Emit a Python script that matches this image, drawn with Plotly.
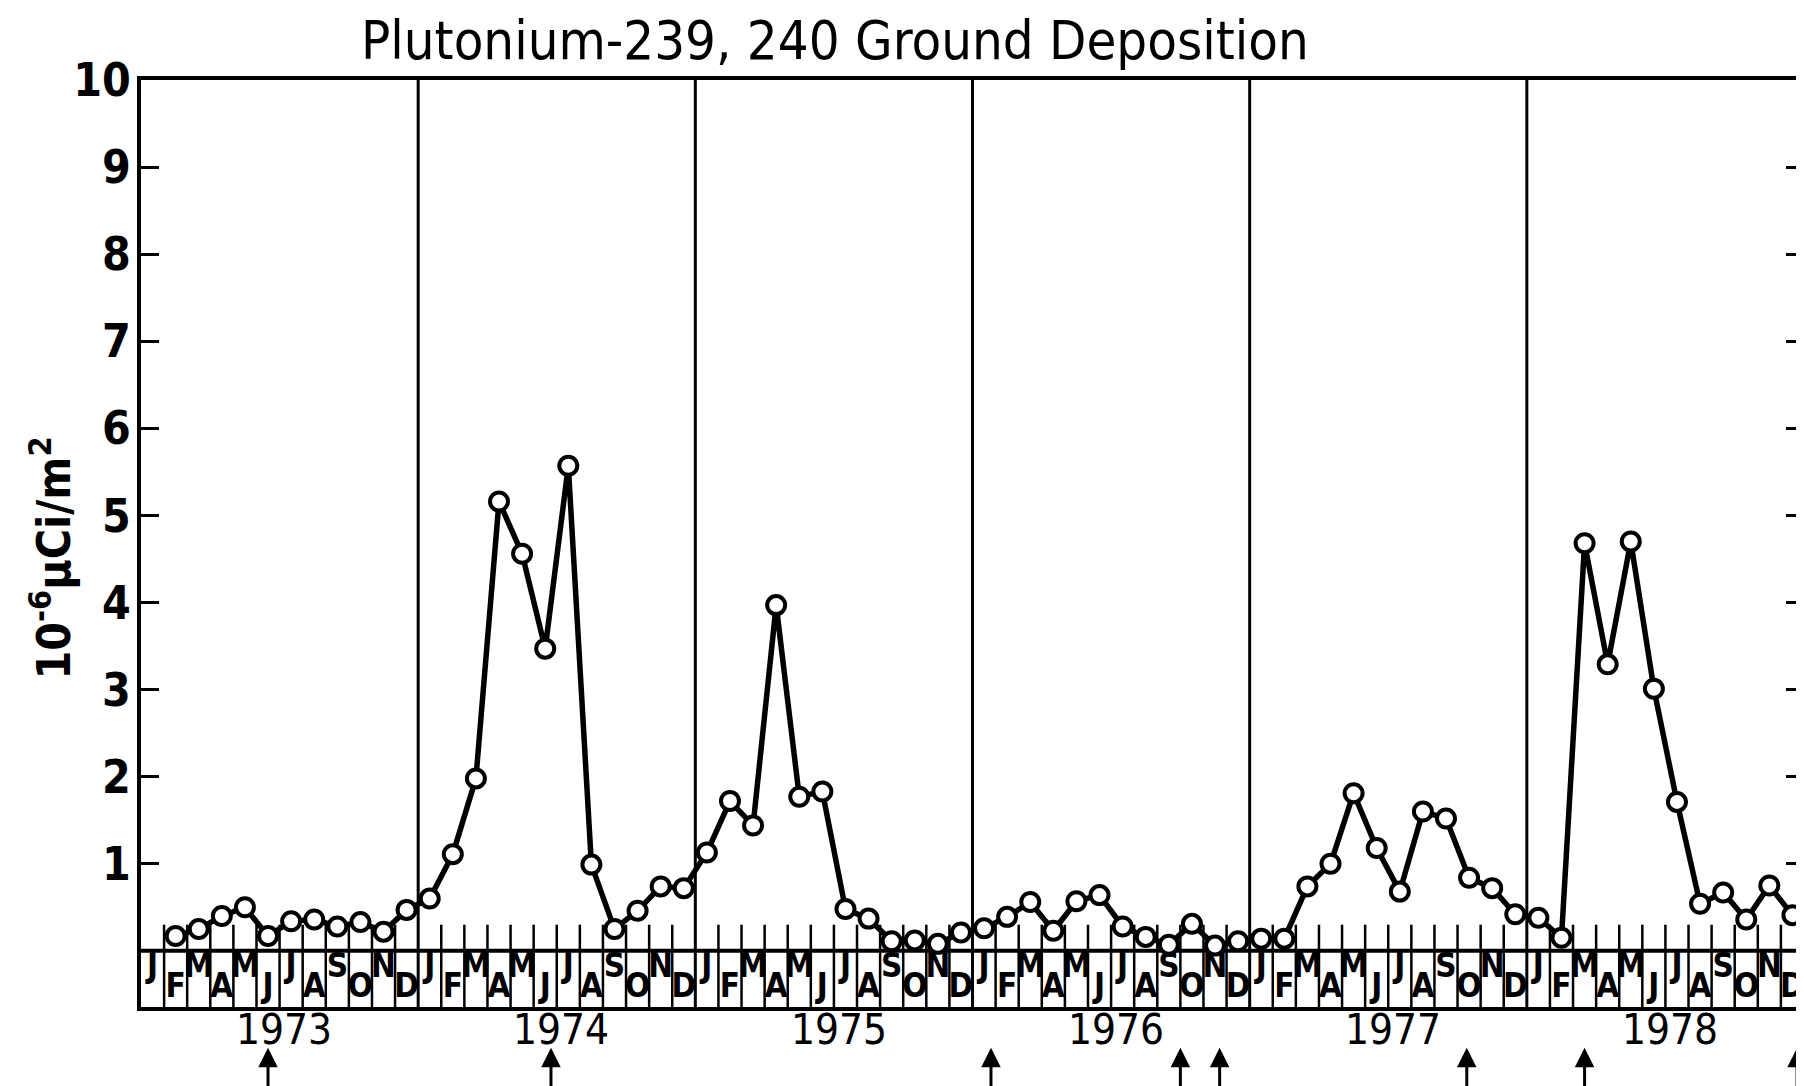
import plotly.graph_objects as go

# ---------------- data ----------------
month_letters = ["J", "F", "M", "A", "M", "J", "J", "A", "S", "O", "N", "D"]
years = [1973, 1974, 1975, 1976, 1977, 1978]

pu_1973 = [None, 0.17, 0.25, 0.40, 0.50, 0.17, 0.34, 0.36, 0.28, 0.33, 0.22, 0.47]
pu_1974 = [0.60, 1.11, 1.98, 5.16, 4.56, 3.47, 5.57, 0.99, 0.25, 0.46, 0.74, 0.72]
pu_1975 = [1.13, 1.72, 1.44, 3.97, 1.77, 1.83, 0.48, 0.37, 0.11, 0.12, 0.08, 0.21]
pu_1976 = [0.26, 0.39, 0.56, 0.23, 0.57, 0.64, 0.28, 0.16, 0.07, 0.31, 0.06, 0.11]
pu_1977 = [0.14, 0.14, 0.74, 1.00, 1.81, 1.18, 0.68, 1.60, 1.52, 0.84, 0.72, 0.42]
pu_1978 = [0.38, 0.15, 4.68, 3.29, 4.70, 3.01, 1.71, 0.54, 0.67, 0.36, 0.75, 0.41]

y_tick_values = [1, 2, 3, 4, 5, 6, 7, 8, 9, 10]
y_tick_labels = ["1", "2", "3", "4", "5", "6", "7", "8", "9", "10"]

# months (index from Jan 1973) marked by arrows under the chart
event_months = [5.0, 17.25, 36.3, 44.5, 46.2, 56.9, 62.0, 71.2]

title_text = "Plutonium-239, 240 Ground Deposition"
y_title = "10<sup>-6</sup>\u03bcCi/m<sup>2</sup>"

# ---------------- derived ----------------
series = pu_1973 + pu_1974 + pu_1975 + pu_1976 + pu_1977 + pu_1978
n_months = len(series)
month_x = list(range(n_months))
letters = [month_letters[i % 12] for i in month_x]

# ---------------- style ----------------
FONT = "DejaVu Sans Condensed, Liberation Sans Narrow, Arial Narrow, sans-serif"
BLACK = "#000000"
STRIP_BOTTOM = -0.645   # bottom of the month-letter strip (axis units)
TICK_TOP = 0.3          # height of the small month tick marks
UPPER_Y, LOWER_Y = -0.20, -0.44

fig = go.Figure()

# month letters in the strip (alternating up / down)
fig.add_trace(go.Scatter(
    x=month_x,
    y=[UPPER_Y if i % 2 == 0 else LOWER_Y for i in month_x],
    text=letters,
    mode="text",
    textfont=dict(family=FONT, size=33, color=BLACK, weight="bold"),
    hoverinfo="skip",
    showlegend=False,
))

# the data line
fig.add_trace(go.Scatter(
    x=month_x,
    y=series,
    mode="lines+markers",
    line=dict(color=BLACK, width=5.5),
    marker=dict(symbol="circle", size=18, color="white",
                line=dict(color=BLACK, width=4)),
    showlegend=False,
    cliponaxis=False,
))

shapes = []
# top of strip (y = 0)
shapes.append(dict(type="line", xref="x", yref="y", x0=-0.5, x1=n_months - 0.5,
                   y0=0, y1=0, line=dict(color=BLACK, width=4), layer="below"))
for b in range(1, n_months):
    xb = b - 0.5
    if b % 12 == 0:
        shapes.append(dict(type="line", xref="x", yref="y", x0=xb, x1=xb,
                           y0=STRIP_BOTTOM, y1=10, line=dict(color=BLACK, width=3),
                           layer="below"))
    else:
        shapes.append(dict(type="line", xref="x", yref="y", x0=xb, x1=xb,
                           y0=STRIP_BOTTOM, y1=TICK_TOP, line=dict(color=BLACK, width=2.5),
                           layer="below"))

annotations = []
# title
annotations.append(dict(text=title_text, xref="paper", yref="paper", x=0.4175, y=1.043,
                        xanchor="center", yanchor="middle", showarrow=False,
                        font=dict(family=FONT, size=54, color=BLACK)))
# y-axis title
annotations.append(dict(text=y_title, xref="paper", yref="paper", x=-0.054, y=0.484,
                        xanchor="center", yanchor="middle", showarrow=False, textangle=-90,
                        font=dict(family=FONT, size=46, color=BLACK, weight="bold")))
# year labels
for k, yr in enumerate(years):
    annotations.append(dict(text=str(yr), xref="x", yref="paper", x=12 * k + 5.5 + 0.2,
                            y=-0.0245, xanchor="center", yanchor="middle", showarrow=False,
                            font=dict(family=FONT, size=42, color=BLACK)))
# event arrows
for em in event_months:
    annotations.append(dict(text="", xref="x", yref="paper", x=em, y=-0.044,
                            showarrow=True, ax=0, ay=42, arrowhead=2, arrowsize=1.3,
                            arrowwidth=3, arrowcolor=BLACK))

fig.update_layout(
    width=1804, height=1086,
    margin=dict(l=133, r=4, t=72, b=87),
    paper_bgcolor="white", plot_bgcolor="white",
    shapes=shapes, annotations=annotations,
    showlegend=False,
    xaxis=dict(range=[-0.5, n_months - 0.5], showgrid=False, zeroline=False,
               showticklabels=False, ticks="", showline=True, linecolor=BLACK,
               linewidth=4, mirror=True),
    yaxis=dict(range=[STRIP_BOTTOM, 10], showgrid=False, zeroline=False,
               tickvals=y_tick_values, ticktext=y_tick_labels,
               ticks="inside", ticklen=18, tickwidth=3, tickcolor=BLACK,
               showline=True, linecolor=BLACK, linewidth=4, mirror="ticks",
               ticklabelstandoff=-3,
               tickfont=dict(family=FONT, size=46, color=BLACK, weight="bold")),
)

fig.write_html("out.html")
